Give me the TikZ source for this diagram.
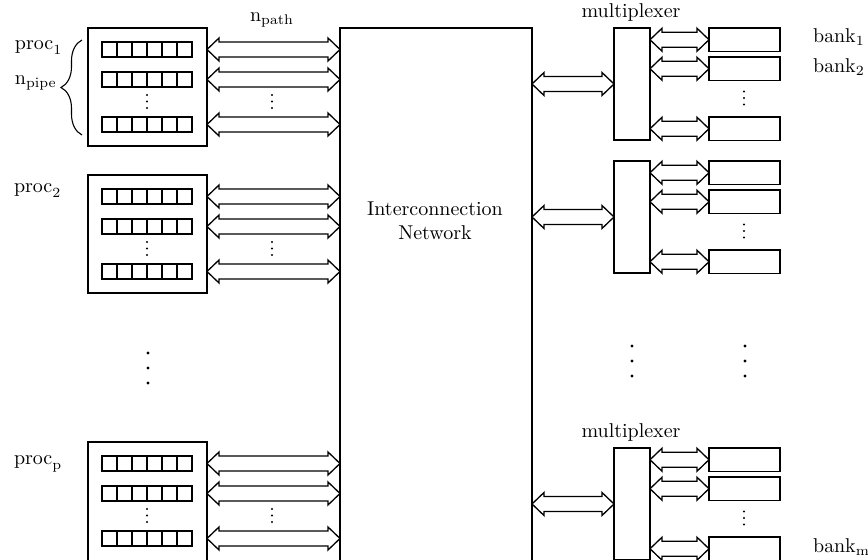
\documentclass[tikz,border=0pt]{standalone}
\usetikzlibrary{calc,decorations.pathreplacing}

\tikzset{
  box/.style={draw, line width=0.7pt, inner sep=0pt, outer sep=0pt, rectangle},
  procbox/.style={box, minimum width=59.5pt, minimum height=59pt, anchor=north west},
  pipebox/.style={box, minimum width=45pt, minimum height=7.5pt, anchor=north west},
  netbox/.style={box, minimum width=96pt, minimum height=300pt, anchor=north west},
  muxbox/.style={box, minimum width=18pt, minimum height=56pt, anchor=north west},
  bankbox/.style={box, minimum width=35.5pt, minimum height=11.75pt, anchor=north west},
  bus/.style={draw, line width=0.65pt, line join=miter},
  lbl/.style={inner sep=0pt, outer sep=0pt},
}

% double-headed bus between two points on the same horizontal line
\newcommand\busarrow[2]{%
  \path[bus] let \p1=(#1), \p2=(#2) in
    (\x1,\y1) -- (\x1+6pt,\y1+5.75pt) -- (\x1+6pt,\y1+3.75pt)
    -- (\x2-6pt,\y1+3.75pt) -- (\x2-6pt,\y1+5.75pt) -- (\x2,\y1)
    -- (\x2-6pt,\y1-5.75pt) -- (\x2-6pt,\y1-3.75pt)
    -- (\x1+6pt,\y1-3.75pt) -- (\x1+6pt,\y1-5.75pt) -- cycle;}

% three small dots, vertical
\newcommand\vdotsat[2]{%
  \foreach \d in {-6.5,0,6.5} \fill (#1,#2+\d) circle[radius=0.55pt];}

\begin{document}
\begin{tikzpicture}[x=0.5pt, y=-0.5pt]
\useasboundingbox (0,0) rectangle (868,560);
\clip (0,0) rectangle (868,560);

% interconnection network
\node[netbox] (net) at (340,28) {};
\node[lbl, align=center] (netlabel) at (435,221) {Interconnection\\Network};

% processors with their pipes
\foreach \j/\t/\h in {1/28/59pt, 2/175/59pt, 3/442/70pt} {
  \node[procbox, minimum height=\h] (P\j) at (88,\t) {};
  \foreach \k/\o in {1/14, 2/44, 3/89} {
    \node[pipebox] (p\j\k) at (102,\t+\o) {};
    \foreach \c in {1,...,5}
      \draw[line width=0.7pt] ($(p\j\k.north west)!\c/6!(p\j\k.north east)$)
        -- ($(p\j\k.south west)!\c/6!(p\j\k.south east)$);
    \busarrow{P\j.east |- p\j\k.center}{net.west |- p\j\k.center}
  }
  \vdotsat{147}{\t+73.5}
  \vdotsat{272}{\t+73.5}
}

% multiplexers and memory banks
\foreach \j/\t in {1/28, 2/161, 3/448} {
  \node[muxbox] (M\j) at (614,\t) {};
  \busarrow{net.east |- M\j.center}{M\j.west}
  \foreach \k/\o in {1/0, 2/29, 3/89} {
    \node[bankbox] (b\j\k) at (709,\t+\o) {};
    \busarrow{M\j.east |- b\j\k.center}{b\j\k.west}
  }
  \vdotsat{744}{\t+70}
}

% elided processors and banks
\foreach \y in {353,368,383} \fill (148,\y) circle[radius=0.8pt];
\foreach \y in {346,361,376} {
  \fill (632,\y) circle[radius=0.8pt];
  \fill (745,\y) circle[radius=0.8pt];
}

% labels
\node[lbl, anchor=base] (npath) at (272,22) {$\mathrm{n}_{\mathrm{path}}$};
\node[lbl, anchor=base west] (proc1) at (15,50) {$\mathrm{proc}_1$};
\node[lbl, anchor=base west] (npipe) at (15,85) {$\mathrm{n}_{\mathrm{pipe}}$};
\node[lbl, anchor=base west] (proc2) at (14,193) {$\mathrm{proc}_2$};
\node[lbl, anchor=base west] (procp) at (14,465) {$\mathrm{proc}_{\mathrm{p}}$};
\node[lbl, anchor=base] (mux1label) at (631,18) {multiplexer};
\node[lbl, anchor=base] (mux3label) at (631,438) {multiplexer};
\node[lbl, anchor=base west] (bank1) at (813,43) {$\mathrm{bank}_1$};
\node[lbl, anchor=base west] (bank2) at (813,73) {$\mathrm{bank}_2$};
\node[lbl, anchor=base west] (bankm) at (813,553) {$\mathrm{bank}_{\mathrm{m}}$};

% brace spanning the pipes of the first processor
\coordinate (braceB) at (82,135);
\coordinate (braceT) at (82,40);
\draw[line width=0.55pt, decorate, decoration={brace, amplitude=10.5pt}] (braceB) -- (braceT);
\end{tikzpicture}
\end{document}
